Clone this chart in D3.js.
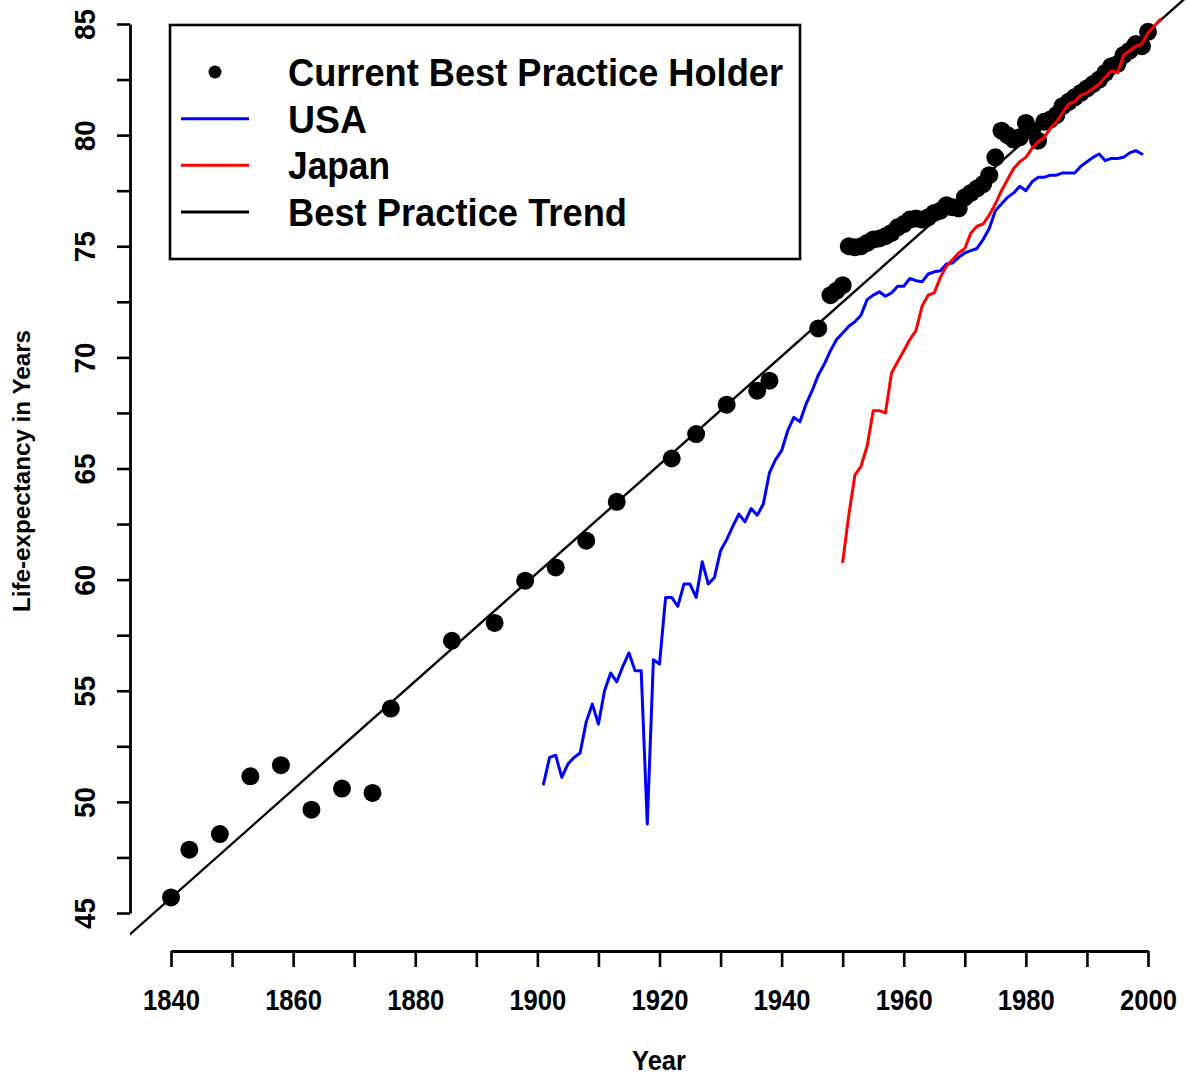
<!DOCTYPE html>
<html><head><meta charset="utf-8">
<script src="https://cdn.jsdelivr.net/npm/d3@7"></script>
<style>
body{margin:0;background:#fff}
svg{display:block}
text{font-family:"Liberation Sans",Arial,sans-serif;font-weight:bold;fill:#000}
</style>
</head><body>
<svg id="chart" width="1186" height="1076"></svg>
<script>
// ---- data ----
const bestYears = [1840,1843,1848,1853,1858,1863,1868,1873,1876,1886,1893,1898,1903,1908,1913,1922,1926,1931,1936,1938,1946,1948,1949,1950,
  1951,1952,1953,1954,1955,1956,1957,1958,1959,1960,
  1961,1962,1963,1964,1965,1966,1967,1968,1969,1970,
  1971,1972,1973,1974,1975,1976,1977,1978,1979,1980,
  1981,1982,1983,1984,1985,1986,1987,1988,1989,1990,
  1991,1992,1993,1994,1995,1996,1997,1998,1999,2000];
const bestValues = [45.7,47.85,48.55,51.15,51.65,49.65,50.6,50.4,54.2,57.25,58.05,59.95,60.55,61.75,63.5,65.45,66.55,67.87,68.5,68.95,71.3,72.8,73.0,73.25,
  75.0,74.95,75.0,75.15,75.3,75.35,75.45,75.6,75.85,76.0,
  76.2,76.25,76.2,76.3,76.5,76.6,76.85,76.75,76.7,77.2,
  77.4,77.6,77.8,78.2,79.0,80.2,80.0,79.8,79.9,80.55,
  80.2,79.75,80.6,80.7,80.9,81.3,81.5,81.7,81.9,82.1,
  82.3,82.5,82.8,83.1,83.2,83.6,83.8,84.1,84.0,84.65];

const usaYears = d3.range(1901, 2000);
const usaValues = [50.8,52.0,52.1,51.1,51.7,52.0,52.2,53.6,54.4,53.5,
  55.0,55.8,55.4,56.1,56.7,55.9,55.9,49.0,56.4,56.2,
  59.2,59.2,58.8,59.8,59.8,59.2,60.8,59.8,60.1,61.3,
  61.8,62.4,62.95,62.6,63.2,62.9,63.4,64.8,65.4,65.8,
  66.7,67.3,67.1,67.9,68.5,69.2,69.7,70.3,70.8,71.1,
  71.4,71.6,71.9,72.6,72.8,72.95,72.75,72.9,73.2,73.2,
  73.55,73.45,73.4,73.75,73.85,73.9,74.2,74.25,74.5,74.7,
  74.8,74.9,75.3,75.8,76.6,76.9,77.2,77.4,77.7,77.5,
  77.9,78.1,78.1,78.2,78.2,78.3,78.3,78.3,78.6,78.8,
  79.0,79.15,78.85,78.95,78.95,79.0,79.2,79.3,79.15];

const japanYears = d3.range(1950, 2003);
const japanValues = [60.8,62.9,64.7,65.1,66.0,67.6,67.6,67.5,69.3,69.8,
  70.3,70.8,71.2,72.3,72.8,72.9,73.6,74.1,74.4,74.7,
  74.9,75.6,75.9,76.0,76.4,76.9,77.5,78.0,78.5,78.8,
  79.0,79.4,79.7,79.9,80.3,80.6,81.0,81.4,81.5,81.8,
  81.9,82.1,82.3,82.6,82.9,82.8,83.6,83.8,84.0,84.1,
  84.6,84.9,85.2];

const trendValueAt1840 = 45.68;
const trendSlopePerYear = 0.2437;
const trendYears = [1830, 2010];

const xTickValues = d3.range(1840, 2001, 10);
const yTickValues = d3.range(45, 85.01, 2.5);
const legendLabels = ["Current Best Practice Holder", "USA", "Japan", "Best Practice Trend"];
const legendColors = ["#000000", "#0000ff", "#ff0000", "#000000"];

// ---- drawing ----
const svg = d3.select("#chart");
const x = d3.scaleLinear().domain([1840, 2000]).range([171, 1148]);
const y = d3.scaleLinear().domain([45, 85]).range([913, 24]);

function fitText(sel, w) {
  sel.attr("textLength", w).attr("lengthAdjust", "spacingAndGlyphs");
}

svg.append("defs").append("clipPath").attr("id", "plotclip")
  .append("rect").attr("x", 130).attr("y", -20).attr("width", 1060).attr("height", 970);

const plot = svg.append("g").attr("clip-path", "url(#plotclip)");

// trend line
const trendData = trendYears.map(t => ({year: t, value: trendValueAt1840 + trendSlopePerYear * (t - 1840)}));
const line = d3.line().x(d => x(d.year)).y(d => y(d.value));
plot.append("path").datum(trendData).attr("d", line)
  .attr("fill", "none").attr("stroke", "#000").attr("stroke-width", 2.4);

// best practice points
plot.selectAll("circle.best").data(bestYears.map((t, i) => ({year: t, value: bestValues[i]})))
  .join("circle").attr("class", "best")
  .attr("cx", d => x(d.year)).attr("cy", d => y(d.value)).attr("r", 9).attr("fill", "#000");

// USA
plot.append("path").datum(usaYears.map((t, i) => ({year: t, value: usaValues[i]})))
  .attr("d", line).attr("fill", "none").attr("stroke", "#0000ff").attr("stroke-width", 3)
  .attr("stroke-linejoin", "round").attr("stroke-linecap", "round");

// Japan
plot.append("path").datum(japanYears.map((t, i) => ({year: t, value: japanValues[i]})))
  .attr("d", line).attr("fill", "none").attr("stroke", "#ff0000").attr("stroke-width", 3)
  .attr("stroke-linejoin", "round").attr("stroke-linecap", "round");

// x axis
const gx = svg.append("g").attr("transform", "translate(0,951)")
  .call(d3.axisBottom(x).tickValues(xTickValues).tickSize(16).tickSizeOuter(0)
    .tickFormat(d => d % 20 === 0 ? String(d) : ""));
gx.selectAll("path, line").attr("stroke", "#000").attr("stroke-width", 2.6);
gx.selectAll("text").attr("y", 59).attr("dy", null).attr("font-size", 30)
  .attr("font-family", null).attr("fill", "#000")
  .filter(d => d % 20 === 0).call(fitText, 57);

// y axis
const gy = svg.append("g").attr("transform", "translate(130,0)")
  .call(d3.axisLeft(y).tickValues(yTickValues).tickSize(13).tickSizeOuter(0)
    .tickFormat(d => d % 5 === 0 ? String(d) : ""));
gy.selectAll("path, line").attr("stroke", "#000").attr("stroke-width", 2.6);
gy.selectAll("text").attr("x", null).attr("dy", null).attr("text-anchor", "middle")
  .attr("transform", "translate(-35,0) rotate(-90)").attr("font-size", 30)
  .attr("font-family", null).attr("fill", "#000")
  .filter(d => d % 5 === 0).call(fitText, 31);
svg.selectAll(".domain").attr("stroke-width", 2.8);

// axis titles
svg.append("text").attr("x", 659).attr("y", 1070).attr("text-anchor", "middle")
  .attr("font-size", 28).text("Year").call(fitText, 54);
svg.append("text").attr("transform", "translate(30,471) rotate(-90)").attr("text-anchor", "middle")
  .attr("font-size", 24).text("Life-expectancy in Years").call(fitText, 282);

// legend
const lg = svg.append("g");
lg.append("rect").attr("x", 170).attr("y", 25).attr("width", 630).attr("height", 234)
  .attr("fill", "#fff").attr("stroke", "#000").attr("stroke-width", 2.6);
const rowY = d3.scalePoint().domain(legendLabels).range([72, 212]);
const legendWidths = [495, 79, 102, 339];
legendLabels.forEach((lab, i) => {
  const cy = rowY(lab);
  if (i === 0) {
    lg.append("circle").attr("cx", 215).attr("cy", cy).attr("r", 6.5).attr("fill", "#000");
  } else {
    lg.append("line").attr("x1", 181).attr("x2", 249).attr("y1", cy).attr("y2", cy)
      .attr("stroke", legendColors[i]).attr("stroke-width", 3);
  }
  lg.append("text").attr("x", 288).attr("y", cy + 14).attr("font-size", 38)
    .text(lab).call(fitText, legendWidths[i]);
});
</script>
</body></html>
